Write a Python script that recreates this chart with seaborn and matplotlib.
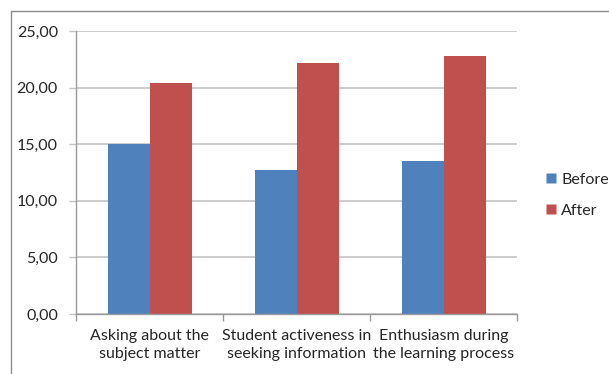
import matplotlib
matplotlib.use("Agg")
import matplotlib.pyplot as plt
from matplotlib.lines import Line2D
from matplotlib.ticker import FuncFormatter, FixedLocator
import pandas as pd
import seaborn as sns

# Data
categories = [
    "Asking about the\nsubject matter",
    "Student activeness in\nseeking information",
    "Enthusiasm during\nthe learning process",
]
before_scores = [15.0, 12.7, 13.55]
after_scores = [20.4, 22.2, 22.8]
series_names = ["Before", "After"]
y_ticks = [0, 5, 10, 15, 20, 25]

df = pd.DataFrame({
    "category": categories * 2,
    "score": before_scores + after_scores,
    "period": [series_names[0]] * len(categories) + [series_names[1]] * len(categories),
})

sns.set_theme(style="white")
plt.rcParams["font.family"] = ["Lato", "DejaVu Sans"]

text_color = "#262626"
grid_color = "#c3c3c3"
axis_color = "#9a9a9a"
palette = {"Before": "#4F81BD", "After": "#C0504D"}

fig = plt.figure(figsize=(6.09, 3.74), dpi=100)
ax = fig.add_axes([76 / 609, 1 - 314 / 374, (517 - 76) / 609, (314 - 31) / 374])

sns.barplot(
    data=df, x="category", y="score", hue="period",
    order=categories, hue_order=series_names, palette=palette,
    width=84 / 147, gap=0, saturation=1, ax=ax, legend=False,
    edgecolor="none", linewidth=0,
)

ax.set_xlim(-0.5, len(categories) - 0.5)
ax.set_ylim(0, 25)
ax.set_xlabel("")
ax.set_ylabel("")

# y axis: comma decimal labels, gridlines
ax.yaxis.set_major_locator(FixedLocator(y_ticks))
ax.yaxis.set_major_formatter(FuncFormatter(lambda v, _: f"{v:.2f}".replace(".", ",")))
ax.yaxis.grid(True, color=grid_color, linewidth=1.2)
ax.set_axisbelow(True)
ax.tick_params(axis="y", length=5, width=1, color=grid_color, pad=8,
               labelsize=11.5, labelcolor=text_color, left=True)

# x axis: boundary ticks, category labels centred between them
ax.xaxis.set_major_locator(FixedLocator([-0.5, 0.5, 1.5, 2.5]))
ax.xaxis.set_major_formatter(FuncFormatter(lambda v, _: ""))
ax.xaxis.set_minor_locator(FixedLocator(range(len(categories))))
ax.set_xticklabels(categories, minor=True)
ax.tick_params(axis="x", which="major", length=5, width=1, color=axis_color, bottom=True)
ax.tick_params(axis="x", which="minor", length=0, pad=11, labelsize=11.5,
               labelcolor=text_color)
for lbl in ax.get_xticklabels(minor=True):
    lbl.set_linespacing(1.3)

for side in ["top", "right"]:
    ax.spines[side].set_visible(False)
ax.spines["left"].set_color(axis_color)
ax.spines["bottom"].set_color(axis_color)
ax.spines["left"].set_linewidth(1)
ax.spines["bottom"].set_linewidth(1)

# Legend
handles = [Line2D([0], [0], marker="s", linestyle="none", markersize=6.5,
                  markerfacecolor=palette[n], markeredgecolor="none") for n in series_names]
fig.legend(handles, series_names, loc="center left",
           bbox_to_anchor=(538 / 609, 1 - 195 / 374), frameon=False,
           fontsize=11.5, labelcolor=text_color, handlelength=0.6,
           handletextpad=0.35, labelspacing=1.05, borderpad=0)

# Chart area border
frame_color = "#8c8c8c"
fig.add_artist(Line2D([10.5 / 609, 10.5 / 609], [0, 1 - 11 / 374],
                      transform=fig.transFigure, color=frame_color, linewidth=1))
fig.add_artist(Line2D([10.5 / 609, 1], [1 - 11 / 374, 1 - 11 / 374],
                      transform=fig.transFigure, color=frame_color, linewidth=1))

fig.savefig("out.png", dpi=100, facecolor="white")
